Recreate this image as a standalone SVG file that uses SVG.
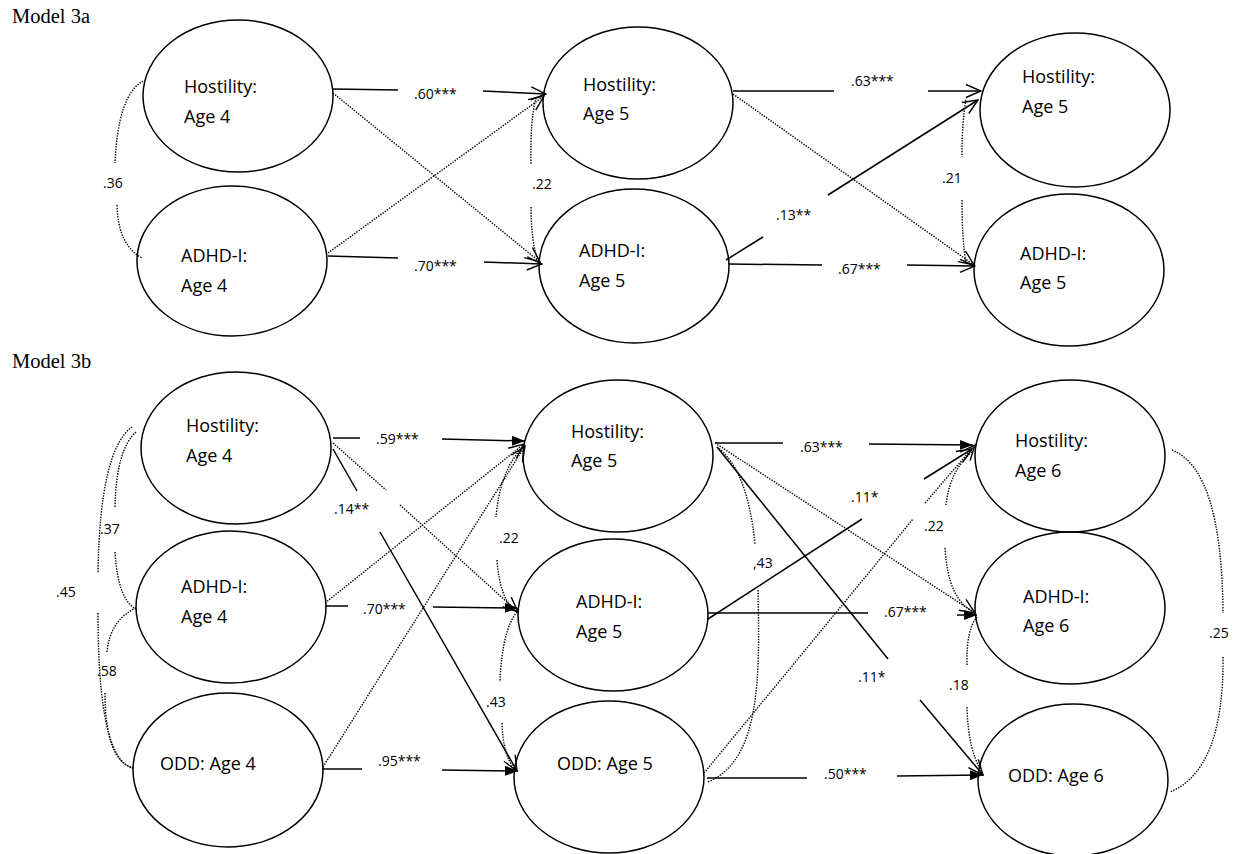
<svg xmlns="http://www.w3.org/2000/svg" width="1233" height="854" viewBox="0 0 1233 854">
<style>
.n{fill:none;stroke:#000;stroke-width:1.5}
.t{font-family:"Open Sans","Liberation Sans",sans-serif;font-size:18px;fill:#000}
.l{font-family:"Open Sans","Liberation Sans",sans-serif;font-size:14px;fill:#000}
.h{font-family:"Liberation Serif","Times New Roman",serif;font-size:20.5px;fill:#000}
.s{fill:none;stroke:#000;stroke-width:1.5}
.d{fill:none;stroke:#000;stroke-width:1.4;stroke-dasharray:1.4 1.3}
</style>
<defs>
<marker id="ao" viewBox="0 0 17 16" refX="16" refY="8" markerWidth="17" markerHeight="16" markerUnits="userSpaceOnUse" orient="auto"><path d="M1,1.5 L16,8 L1,14.5" fill="none" stroke="#000" stroke-width="1.4"/></marker>
<marker id="af" viewBox="0 0 14 12" refX="13" refY="6" markerWidth="14" markerHeight="12" markerUnits="userSpaceOnUse" orient="auto"><path d="M0,1 L13,6 L0,11 z" fill="#000"/></marker>
</defs>
<rect width="1233" height="854" fill="#fff"/>
<text class="h" x="12" y="23">Model 3a</text>
<text class="h" x="12" y="368">Model 3b</text>

<g id="connectors">
<!-- Model 3a -->
<line class="s" x1="333" y1="89" x2="398" y2="90"/>
<line class="s" x1="483" y1="91" x2="546" y2="94" marker-end="url(#ao)"/>
<line class="s" x1="328" y1="256" x2="398" y2="258"/>
<line class="s" x1="484" y1="262" x2="542" y2="264" marker-end="url(#ao)"/>
<line class="d" x1="333" y1="93" x2="540" y2="262" marker-end="url(#ao)"/>
<line class="d" x1="328" y1="253" x2="544" y2="96" marker-end="url(#ao)"/>
<path class="d" d="M536,98 Q530,120 531,165 M531,207 Q531,240 538,262"/>
<line class="s" x1="733" y1="91" x2="834" y2="91"/>
<line class="s" x1="928" y1="91" x2="981" y2="91" marker-end="url(#ao)"/>
<line class="s" x1="728" y1="264" x2="822" y2="265"/>
<line class="s" x1="907" y1="265" x2="975" y2="266" marker-end="url(#ao)"/>
<line class="s" x1="726" y1="260" x2="763" y2="237"/>
<line class="s" x1="828" y1="195" x2="978" y2="100" marker-end="url(#ao)"/>
<line class="d" x1="733" y1="94" x2="974" y2="265" marker-end="url(#ao)"/>
<path class="d" d="M966,100 Q962,120 962,157 M962,200 Q962,240 966,263"/>
<path class="d" d="M143,81 Q118,95 115,163 M117,205 Q118,245 142,258"/>
<!-- Model 3b -->
<line class="s" x1="333" y1="438" x2="360" y2="438"/>
<line class="s" x1="442" y1="439" x2="525" y2="441" marker-end="url(#af)"/>
<line class="s" x1="333" y1="449" x2="357" y2="491"/>
<line class="s" x1="380" y1="532" x2="517" y2="771" marker-end="url(#ao)"/>
<line class="d" x1="333" y1="443" x2="386" y2="490"/>
<line class="d" x1="400" y1="505" x2="518" y2="612" marker-end="url(#ao)"/>
<line class="d" x1="325" y1="603" x2="524" y2="444" marker-end="url(#ao)"/>
<line class="d" x1="323" y1="767" x2="525" y2="446" marker-end="url(#ao)"/>
<line class="s" x1="325" y1="606" x2="348" y2="606"/>
<line class="s" x1="433" y1="607" x2="518" y2="608" marker-end="url(#af)"/>
<line class="s" x1="322" y1="769" x2="362" y2="769"/>
<line class="s" x1="442" y1="770" x2="518" y2="771" marker-end="url(#af)"/>
<path class="d" d="M136,432 Q116,450 115,508 M115,552 Q118,600 136,609"/>
<path class="d" d="M132,427 Q100,450 98,572 M98,613 Q98,760 133,768"/>
<path class="d" d="M136,608 Q110,620 107,652 M105,693 Q105,760 133,768"/>
<path class="d" d="M523,447 Q500,470 496,517 M497,560 Q500,600 516,611"/>
<path class="d" d="M517,612 Q502,630 500,682 M502,723 Q503,755 514,768"/>
<line class="s" x1="715" y1="443" x2="783" y2="443"/>
<line class="s" x1="869" y1="444" x2="973" y2="445" marker-end="url(#af)"/>
<line class="s" x1="717" y1="447" x2="888" y2="659"/>
<line class="s" x1="920" y1="700" x2="983" y2="775" marker-end="url(#ao)"/>
<line class="d" x1="715" y1="443" x2="975" y2="613" marker-end="url(#ao)"/>
<line class="s" x1="708" y1="619" x2="862" y2="519"/>
<line class="s" x1="924" y1="479" x2="972" y2="449" marker-end="url(#ao)"/>
<line class="s" x1="708" y1="613" x2="868" y2="613"/>
<line class="s" x1="957" y1="615" x2="977" y2="615" marker-end="url(#af)"/>
<line class="d" x1="704" y1="773" x2="913" y2="519"/>
<line class="d" x1="925" y1="503" x2="975" y2="445" marker-end="url(#ao)"/>
<line class="s" x1="707" y1="778" x2="807" y2="778"/>
<line class="s" x1="897" y1="776" x2="983" y2="775" marker-end="url(#af)"/>
<path class="d" d="M717,447 Q748,470 755,545 M758,590 C760,680 760,760 708,782"/>
<path class="d" d="M972,452 Q950,470 946,505 M945,548 Q948,600 974,612"/>
<path class="d" d="M977,617 Q966,630 967,665 M967,707 Q968,750 982,772"/>
<path class="d" d="M1172,450 Q1222,470 1223,613 M1223,657 Q1224,770 1170,792"/>
</g>

<g id="labels">
<text class="l" x="103" y="188">.36</text>
<text class="l" x="414" y="99">.60***</text>
<text class="l" x="414" y="271">.70***</text>
<text class="l" x="532" y="189">.22</text>
<text class="l" x="776" y="220">.13**</text>
<text class="l" x="851" y="86">.63***</text>
<text class="l" x="942" y="183">.21</text>
<text class="l" x="838" y="274">.67***</text>
<text class="l" x="376" y="444">.59***</text>
<text class="l" x="334" y="514">.14**</text>
<text class="l" x="100" y="534">.37</text>
<text class="l" x="56" y="597">.45</text>
<text class="l" x="97" y="676">.58</text>
<text class="l" x="363" y="614">.70***</text>
<text class="l" x="378" y="766">.95***</text>
<text class="l" x="499" y="543">.22</text>
<text class="l" x="753" y="568">,43</text>
<text class="l" x="800" y="452">.63***</text>
<text class="l" x="851" y="502">.11*</text>
<text class="l" x="924" y="531">.22</text>
<text class="l" x="486" y="707">.43</text>
<text class="l" x="884" y="617">.67***</text>
<text class="l" x="858" y="682">.11*</text>
<text class="l" x="949" y="690">.18</text>
<text class="l" x="1209" y="638">.25</text>
<text class="l" x="824" y="779">.50***</text>
</g>

<g id="a_hos4"><ellipse class="n" cx="238" cy="96" rx="95" ry="76"/><text class="t" x="184" y="93">Hostility:</text><text class="t" x="184" y="123">Age 4</text></g>
<g id="a_adhd4"><ellipse class="n" cx="232" cy="261" rx="95" ry="75"/><text class="t" x="181" y="262">ADHD-I:</text><text class="t" x="181" y="292">Age 4</text></g>
<g id="a_hos5"><ellipse class="n" cx="638" cy="103" rx="95" ry="76"/><text class="t" x="583" y="91">Hostility:</text><text class="t" x="583" y="120">Age 5</text></g>
<g id="a_adhd5"><ellipse class="n" cx="634" cy="266" rx="95" ry="77"/><text class="t" x="579" y="257">ADHD-I:</text><text class="t" x="579" y="287">Age 5</text></g>
<g id="a_hos5b"><ellipse class="n" cx="1075" cy="110" rx="95" ry="77"/><text class="t" x="1022" y="83">Hostility:</text><text class="t" x="1022" y="113">Age 5</text></g>
<g id="a_adhd5b"><ellipse class="n" cx="1069" cy="270" rx="95" ry="76"/><text class="t" x="1020" y="260">ADHD-I:</text><text class="t" x="1020" y="289">Age 5</text></g>

<g id="b_hos4"><ellipse class="n" cx="236" cy="448" rx="95" ry="76"/><text class="t" x="186" y="432">Hostility:</text><text class="t" x="186" y="462">Age 4</text></g>
<g id="b_adhd4"><ellipse class="n" cx="231" cy="607" rx="95" ry="76"/><text class="t" x="181" y="593">ADHD-I:</text><text class="t" x="181" y="623">Age 4</text></g>
<g id="b_odd4"><ellipse class="n" cx="228" cy="770" rx="95" ry="77"/><text class="t" x="160" y="770">ODD: Age 4</text></g>
<g id="b_hos5"><ellipse class="n" cx="618" cy="456" rx="95" ry="76"/><text class="t" x="571" y="438">Hostility:</text><text class="t" x="571" y="467">Age 5</text></g>
<g id="b_adhd5"><ellipse class="n" cx="613" cy="615" rx="95" ry="76"/><text class="t" x="576" y="608">ADHD-I:</text><text class="t" x="576" y="638">Age 5</text></g>
<g id="b_odd5"><ellipse class="n" cx="609" cy="777" rx="95" ry="76"/><text class="t" x="557" y="770">ODD: Age 5</text></g>
<g id="b_hos6"><ellipse class="n" cx="1070" cy="456" rx="95" ry="76"/><text class="t" x="1015" y="447">Hostility:</text><text class="t" x="1015" y="477">Age 6</text></g>
<g id="b_adhd6"><ellipse class="n" cx="1070" cy="608" rx="95" ry="76"/><text class="t" x="1023" y="603">ADHD-I:</text><text class="t" x="1023" y="632">Age 6</text></g>
<g id="b_odd6"><ellipse class="n" cx="1073" cy="780" rx="95" ry="76"/><text class="t" x="1008" y="782">ODD: Age 6</text></g>
</svg>
